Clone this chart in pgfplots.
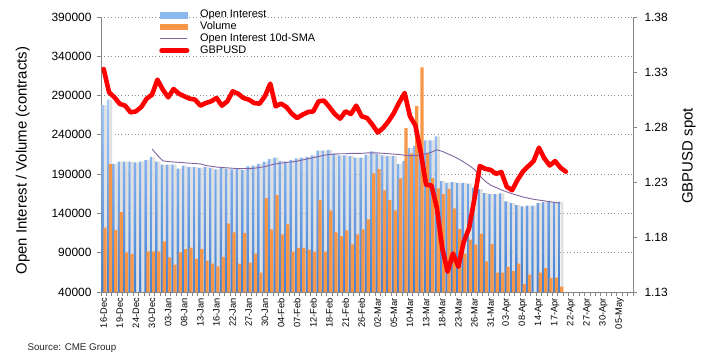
\documentclass[border=0pt]{standalone}
\usepackage{pgfplots}
\usepackage{pgfplotstable}
\pgfplotsset{compat=1.18}
\usepackage{fontspec}
\setmainfont{Liberation Sans}
\definecolor{oiTop}{RGB}{165,201,247}
\definecolor{oiBot}{RGB}{66,128,212}
\definecolor{oiLeg}{RGB}{140,184,240}
\definecolor{vol}{RGB}{247,150,70}
\definecolor{sma}{RGB}{128,100,162}
\definecolor{axgray}{RGB}{134,134,134}
\definecolor{gridgray}{RGB}{140,140,140}

\pgfplotstableread{
x oi
0 278000
1 285000
2 203000
3 206000
4 206000
5 206000
6 205000
7 206000
8 208000
9 212000
10 206000
11 202000
12 202000
13 202000
14 197000
15 201000
16 199000
17 199000
18 198000
19 199000
20 198000
21 196000
22 199000
23 197000
24 196000
25 197000
26 195000
27 200000
28 201000
29 203000
30 206000
31 209000
32 211000
33 207000
34 206000
35 208000
36 210000
37 211000
38 212000
39 214000
40 220000
41 220000
42 221000
43 216000
44 214000
45 214000
46 213000
47 211000
48 211000
49 215000
50 219000
51 216000
52 214000
53 213000
54 213000
55 203000
56 207000
57 223000
58 226000
59 229000
60 233000
61 233000
62 238000
63 181000
64 179000
65 180000
66 179000
67 179000
68 178000
69 173000
70 171000
71 166000
72 164500
73 164500
74 165500
75 155500
76 153000
77 150500
78 149000
79 150000
80 150000
81 153000
82 154500
83 154500
84 154500
85 155000
}\oitable

\pgfplotstableread{
x vol
0 122000
1 203000
2 118600
3 141700
4 90400
5 88300
8 91700
9 91700
10 91700
11 104500
12 84000
13 75000
14 90400
15 94500
16 96600
17 82300
18 95000
19 79800
20 76000
21 72700
22 84700
23 127400
24 115800
25 76000
26 115000
27 77400
28 88700
29 64800
30 159500
31 119700
32 163300
33 113300
34 126000
35 91500
36 96200
37 96200
38 93900
39 91500
40 156800
41 91500
42 144000
43 115800
44 111200
45 118300
46 100500
47 113300
48 119700
49 132400
50 191000
51 196500
52 169500
53 156800
54 144000
55 184700
56 248500
57 216500
58 277000
59 326000
60 216000
61 185000
62 172000
63 164500
64 170800
65 146300
66 120000
67 88700
68 106700
69 100400
70 114400
71 79000
72 101000
73 64800
74 64800
75 72000
76 66500
77 76000
78 50300
79 62000
81 64800
82 70800
83 58000
84 58400
85 47000
}\voltable

\pgfplotstableread{
x sma
9 222000
10 214000
11 207000
12 206000
13 205500
14 205000
15 204500
16 204000
17 203500
18 203000
19 201000
20 200000
21 199000
22 198500
23 198000
24 197500
25 197000
26 197000
27 197000
28 197500
29 198500
30 199500
31 201500
32 203000
33 204000
34 205000
35 205500
36 206500
37 208000
38 209500
39 211000
40 212500
41 214000
42 215000
43 215500
44 216000
45 216000
46 216500
47 216500
48 216500
49 217000
50 217000
51 217000
52 216500
53 216000
54 215500
55 215000
56 214000
57 213500
58 213500
59 214500
60 216000
61 218000
62 221000
63 219000
64 216000
65 213000
66 209500
67 205500
68 201000
69 196000
70 188000
71 181000
72 176000
73 173000
74 170000
75 167500
76 165000
77 163000
78 161000
79 159500
80 158000
81 157000
82 156000
83 155000
84 154000
85 153000
}\smatable

\pgfplotstableread{
x gbp
0 1.3327
1 1.3115
2 1.3070
3 1.3010
4 1.2994
5 1.2933
6 1.2942
7 1.2982
8 1.3058
9 1.3094
10 1.3230
11 1.3140
12 1.3070
13 1.3145
14 1.3103
15 1.3079
16 1.3058
17 1.3049
18 1.2994
19 1.3018
20 1.3033
21 1.3064
22 1.2994
23 1.3033
24 1.3124
25 1.3103
26 1.3064
27 1.3049
28 1.3018
29 1.3012
30 1.3079
31 1.3194
32 1.2988
33 1.3012
34 1.2982
35 1.2921
36 1.2882
37 1.2912
38 1.2936
39 1.2942
40 1.3033
41 1.3040
42 1.2982
43 1.2918
44 1.2876
45 1.2942
46 1.2918
47 1.2994
48 1.2897
49 1.2882
50 1.2821
51 1.2750
52 1.2791
53 1.2852
54 1.2927
55 1.3024
56 1.3109
57 1.2897
58 1.2815
59 1.2570
60 1.2275
61 1.2268
62 1.2065
63 1.1700
64 1.1485
65 1.1650
66 1.1530
67 1.1755
68 1.1880
69 1.2150
70 1.2445
71 1.2420
72 1.2410
73 1.2375
74 1.2390
75 1.2257
76 1.2225
77 1.2318
78 1.2394
79 1.2443
80 1.2490
81 1.2612
82 1.2515
83 1.2450
84 1.2490
85 1.2430
86 1.2394
}\gbptable

\begin{document}
\begin{tikzpicture}
\useasboundingbox (-101bp,-70bp) rectangle (606bp,292bp);
\begin{axis}[
  at={(0,0)}, anchor=south west,
  scale only axis, width=532bp, height=275bp,
  xmin=-0.5, xmax=98.5, ymin=40000, ymax=390000,
  axis y line*=left, axis x line*=bottom,
  axis line style={axgray, line width=0.8bp},
  ytick={40000,90000,140000,190000,240000,290000,340000,390000},
  scaled y ticks=false,
  /pgf/number format/assume math mode=true,
  yticklabel style={/pgf/number format/fixed, /pgf/number format/1000 sep={}, font=\fontsize{12}{14}\selectfont, xshift=-2bp},
  ymajorgrids,
  major grid style={gridgray, line width=0.9bp, dash pattern=on 0.9bp off 2.5bp},
  tick align=outside, major tick length=4bp,
  ytick style={axgray, line width=0.8bp},
  xtick={0,3,...,96},
  xticklabels={16-Dec,19-Dec,24-Dec,30-Dec,03-Jan,08-Jan,13-Jan,16-Jan,22-Jan,27-Jan,30-Jan,04-Feb,07-Feb,12-Feb,18-Feb,21-Feb,26-Feb,02-Mar,05-Mar,10-Mar,13-Mar,18-Mar,23-Mar,26-Mar,31-Mar,03-Apr,08-Apr,14-Apr,17-Apr,22-Apr,27-Apr,30-Apr,05-May},
  xtick style={draw=none},
  xticklabel style={rotate=90, anchor=east, font=\fontsize{9.3}{11}\selectfont, inner sep=2bp},
  ylabel={Open Interest / Volume (contracts)},
  ylabel style={at={(axis description cs:-0.147,0.478)}, anchor=center, font=\fontsize{15}{18}\selectfont},
]
\addplot[ybar, bar width=0.5, bar shift=0.3, fill=black!12, draw=none] table[x=x,y=oi]{\oitable};
\addplot[ybar, bar width=0.45, bar shift=-0.2, draw=none, top color=oiTop, bottom color=oiBot] table[x=x,y=oi]{\oitable};
\addplot[ybar, bar width=0.6, bar shift=0.25, fill=vol, draw=none] table[x=x,y=vol]{\voltable};
\addplot[sma, line width=0.9bp] table[x=x,y=sma]{\smatable};
\end{axis}
\begin{axis}[
  at={(0,0)}, anchor=south west,
  scale only axis, width=532bp, height=275bp,
  xmin=-0.5, xmax=98.5, ymin=1.13, ymax=1.38,
  axis y line*=right, axis x line*=bottom,
  axis line style={axgray, line width=0.8bp},
  ytick={1.13,1.18,1.23,1.28,1.33,1.38},
  /pgf/number format/assume math mode=true,
  yticklabel style={/pgf/number format/fixed, /pgf/number format/fixed zerofill, /pgf/number format/precision=2, font=\fontsize{12}{14}\selectfont, xshift=4bp},
  tick align=outside, major tick length=4bp,
  ytick style={axgray, line width=0.8bp},
  xtick={-0.5,0.5,...,98.5}, xticklabels={},
  xtick style={axgray, line width=0.8bp},
  ylabel={GBPUSD spot},
  ylabel style={at={(axis description cs:1.105,0.495)}, anchor=center, rotate=0, font=\fontsize{15}{18}\selectfont},
  legend cell align=left,
  legend style={at={(axis description cs:0.1096,1.029)}, anchor=north west, draw=none, fill=none,
    inner sep=0pt, outer sep=0pt, row sep=0pt, column sep=10bp,
    font=\fontsize{11}{13}\selectfont,
    nodes={inner sep=0.7bp, text height=8bp, text depth=2.5bp}},
]
\addlegendimage{legend image code/.code={\fill[oiLeg] (0bp,-2.8bp) rectangle (27bp,2.8bp);}}
\addlegendentry{Open Interest}
\addlegendimage{legend image code/.code={\fill[vol] (0bp,-2.8bp) rectangle (27bp,2.8bp);}}
\addlegendentry{Volume}
\addlegendimage{legend image code/.code={\draw[sma, line width=0.9bp] (0bp,0bp) -- (27bp,0bp);}}
\addlegendentry{Open Interest 10d-SMA}
\addplot[red, line width=4.6bp, line join=round, line cap=round,
  legend image code/.code={\draw[red, line width=4.6bp, line cap=round] (1.5bp,0bp) -- (27bp,0bp);}]
  table[x=x,y=gbp]{\gbptable};
\addlegendentry{GBPUSD}
\end{axis}
\node[anchor=west, font=\fontsize{9.8}{12}\selectfont, text=black!85] at (-77bp,-56bp) {Source: CME Group};
\end{tikzpicture}
\end{document}
